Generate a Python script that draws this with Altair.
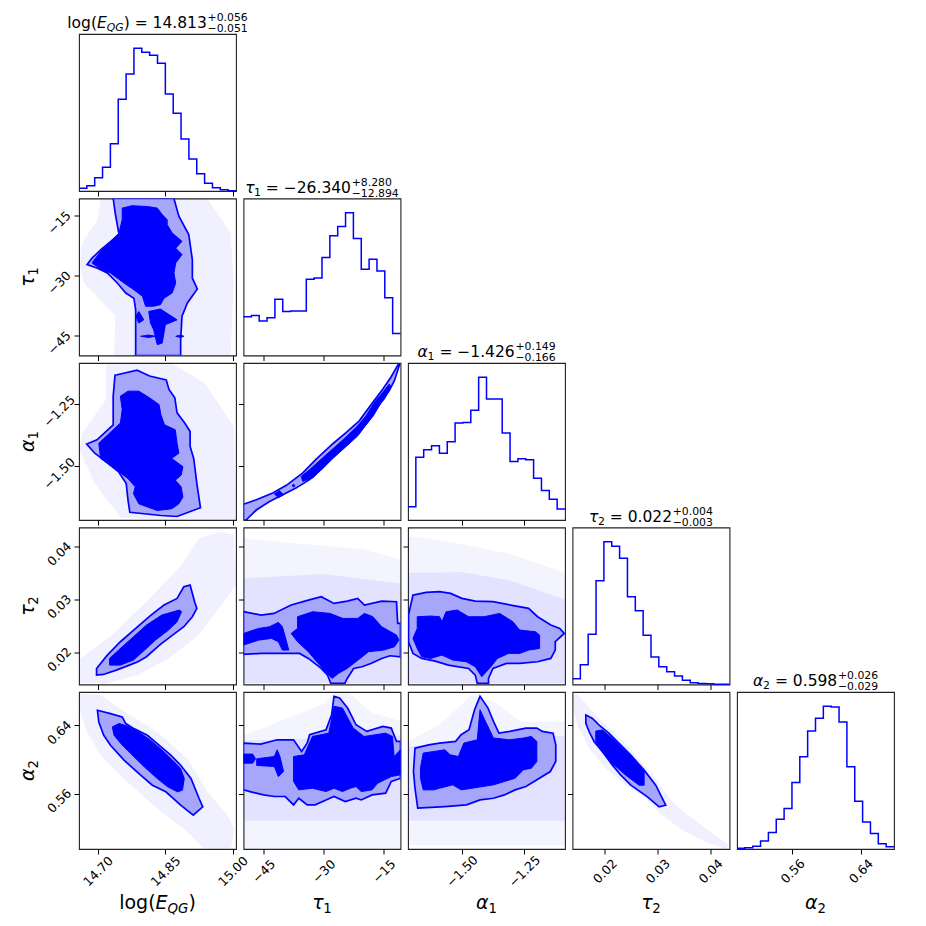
import altair as alt
import numpy as np
import pandas as pd

# ---------------- data ----------------
PARAMS = ["logE", "tau1", "alpha1", "tau2", "alpha2"]
RANGES = {
    "logE": [14.658, 15.007],
    "tau1": [-50.0, -10.8],
    "alpha1": [-1.716, -1.086],
    "tau2": [0.0139, 0.0436],
    "alpha2": [0.495, 0.679],
}
TICKS = {
    "logE": [14.70, 14.85, 15.00],
    "tau1": [-45, -30, -15],
    "alpha1": [-1.50, -1.25],
    "tau2": [0.02, 0.03, 0.04],
    "alpha2": [0.56, 0.64],
}
FMT = {"logE": ".2f", "tau1": "d", "alpha1": ".2f", "tau2": ".2f", "alpha2": ".2f"}

HIST_LOGE = [8, 16, 40, 71, 142, 275, 351, 428, 416, 407, 383, 291, 233, 156, 96, 52, 23, 10, 4, 1]
HIST_TAU1 = [116, 120, 103, 113, 168, 132, 133, 133, 228, 232, 293, 358, 386, 427, 350, 258, 288, 253, 173, 66]
HIST_ALPHA1 = [40, 188, 210, 222, 200, 234, 290, 292, 328, 427, 362, 362, 260, 175, 183, 180, 125, 88, 62, 33]
HIST_TAU2 = [17, 59, 150, 310, 426, 413, 377, 262, 220, 147, 82, 53, 38, 25, 13, 5, 3, 2, 1, 0.5]
HIST_ALPHA2 = [2, 4, 8, 24, 49, 89, 121, 199, 276, 353, 391, 427, 425, 380, 246, 143, 81, 46, 16, 7]
HISTS = {"logE": HIST_LOGE, "tau1": HIST_TAU1, "alpha1": HIST_ALPHA1, "tau2": HIST_TAU2, "alpha2": HIST_ALPHA2}

TITLE_VALUES = {
    "logE": ("14.813", "+0.056", "\u22120.051"),
    "tau1": ("\u221226.340", "+8.280", "\u221212.894"),
    "alpha1": ("\u22121.426", "+0.149", "\u22120.166"),
    "tau2": ("0.022", "+0.004", "\u22120.003"),
    "alpha2": ("0.598", "+0.026", "\u22120.029"),
}
LABELS = {
    "logE": [("rm", "log("), ("it", "E"), ("sub", "QG", True), ("rm", ")")],
    "tau1": [("it", "\u03c4"), ("sub", "1", False)],
    "alpha1": [("it", "\u03b1"), ("sub", "1", False)],
    "tau2": [("it", "\u03c4"), ("sub", "2", False)],
    "alpha2": [("it", "\u03b1"), ("sub", "2", False)],
}

# contour / point-cloud outlines (x, y) in data units
A_CLOUD = [(14.706, -10.8), (14.943, -10.8), (14.995, -19.4), (15.002, -31.9), (14.995, -50.0), (14.736, -50.0),
           (14.739, -40.2), (14.669, -31.9), (14.660, -27.7), (14.665, -21.9), (14.699, -16.1)]
A_2SIG = [(14.734, -10.8), (14.739, -14.8), (14.747, -19.8), (14.706, -23.6), (14.687, -25.7), (14.676, -27.3),
          (14.699, -28.2), (14.721, -29.4), (14.743, -31.9), (14.762, -34.4), (14.780, -35.7), (14.784, -38.6),
          (14.784, -50.0), (14.884, -50.0), (14.884, -46.1), (14.887, -40.2), (14.899, -36.9), (14.921, -33.4),
          (14.910, -30.7), (14.910, -26.1), (14.902, -19.8), (14.880, -15.2), (14.869, -10.8)]
A_1SIG = [(14.754, -13.2), (14.776, -12.6), (14.810, -12.8), (14.832, -13.2), (14.843, -14.8), (14.854, -16.1),
          (14.854, -17.3), (14.865, -19.4), (14.887, -21.5), (14.873, -23.2), (14.887, -24.8), (14.873, -26.9),
          (14.869, -29.4), (14.873, -31.9), (14.865, -34.4), (14.847, -35.7), (14.839, -37.3), (14.824, -37.7),
          (14.806, -37.7), (14.799, -35.2), (14.780, -33.6), (14.758, -31.9), (14.728, -29.4), (14.706, -28.4),
          (14.687, -26.9), (14.706, -24.0), (14.728, -21.5), (14.747, -19.4), (14.754, -16.1)]
A_1SIG_B = [(14.784, -40.2), (14.791, -39.0), (14.802, -41.1), (14.791, -41.9)]
A_1SIG_C = [(14.813, -39.0), (14.839, -38.4), (14.876, -41.1), (14.850, -42.3), (14.843, -46.9), (14.832, -47.3),
            (14.824, -43.6), (14.817, -41.9)]
A_1SIG_D = [(14.795, -45.2), (14.813, -44.9), (14.828, -45.2), (14.813, -45.5)]
A_1SIG_E = [(14.873, -45.2), (14.884, -44.9), (14.891, -45.2), (14.884, -45.5)]

B_CLOUD = [(14.718, -1.091), (14.864, -1.087), (14.937, -1.165), (15.002, -1.340), (15.007, -1.716), (14.824, -1.716),
           (14.750, -1.705), (14.693, -1.570), (14.659, -1.435), (14.665, -1.367), (14.718, -1.232)]
B_2SIG = [(14.738, -1.135), (14.787, -1.115), (14.815, -1.138), (14.852, -1.154), (14.858, -1.192), (14.871, -1.226),
          (14.876, -1.286), (14.893, -1.327), (14.905, -1.361), (14.905, -1.421), (14.913, -1.469), (14.920, -1.570),
          (14.928, -1.667), (14.876, -1.702), (14.840, -1.698), (14.771, -1.685), (14.767, -1.637), (14.763, -1.570),
          (14.746, -1.523), (14.718, -1.482), (14.693, -1.448), (14.675, -1.411), (14.698, -1.394), (14.734, -1.334),
          (14.734, -1.219)]
B_1SIG = [(14.750, -1.219), (14.767, -1.199), (14.791, -1.199), (14.815, -1.226), (14.836, -1.253), (14.840, -1.293),
          (14.848, -1.334), (14.872, -1.354), (14.876, -1.408), (14.880, -1.448), (14.864, -1.469), (14.889, -1.502),
          (14.885, -1.536), (14.872, -1.556), (14.885, -1.583), (14.889, -1.624), (14.880, -1.651), (14.864, -1.671),
          (14.832, -1.678), (14.791, -1.651), (14.779, -1.610), (14.783, -1.583), (14.767, -1.550), (14.742, -1.516),
          (14.706, -1.469), (14.702, -1.408), (14.718, -1.381), (14.750, -1.327), (14.754, -1.273)]

C_2SIG = [(-50.0, -1.653), (-46.8, -1.635), (-42.7, -1.608), (-39.3, -1.577), (-35.2, -1.527), (-31.9, -1.473),
          (-27.7, -1.410), (-24.4, -1.365), (-21.1, -1.318), (-17.7, -1.244), (-15.2, -1.190), (-13.2, -1.143),
          (-11.5, -1.095), (-10.9, -1.086), (-12.3, -1.156), (-13.6, -1.197), (-15.7, -1.244), (-17.7, -1.298),
          (-20.2, -1.345), (-23.6, -1.399), (-26.9, -1.453), (-30.2, -1.507), (-33.5, -1.554), (-36.9, -1.588),
          (-40.2, -1.615), (-43.5, -1.642), (-46.8, -1.676), (-48.9, -1.709), (-49.3, -1.716), (-50.0, -1.716)]
C_1SIG = [(-35.6, -1.541), (-33.5, -1.514), (-30.2, -1.466), (-26.9, -1.419), (-24.4, -1.383), (-21.5, -1.338),
          (-19.4, -1.298), (-17.3, -1.244), (-15.2, -1.203), (-13.6, -1.170), (-13.2, -1.183), (-14.8, -1.230),
          (-16.5, -1.264), (-18.6, -1.318), (-21.5, -1.379), (-25.2, -1.433), (-28.5, -1.480), (-31.0, -1.520),
          (-32.7, -1.547), (-35.2, -1.561)]
C_1SIG_B = [(-42.3, -1.612), (-41.0, -1.599), (-40.0, -1.615), (-41.2, -1.626)]
C_1SIG_C = [(-37.9, -1.578), (-37.5, -1.573), (-37.1, -1.578), (-37.5, -1.583)]

D_CLOUD = [(14.658, 0.01852), (14.731, 0.02325), (14.808, 0.02956), (14.886, 0.03650), (14.925, 0.04155),
           (14.973, 0.04281), (15.002, 0.04218), (15.007, 0.03271), (14.963, 0.02767), (14.925, 0.02325),
           (14.857, 0.01883), (14.789, 0.01568), (14.721, 0.0141), (14.658, 0.0141)]
D_2SIG = [(14.697, 0.01568), (14.697, 0.01694), (14.721, 0.01946), (14.750, 0.02199), (14.784, 0.02451),
          (14.818, 0.02703), (14.847, 0.02893), (14.876, 0.03019), (14.891, 0.03240), (14.905, 0.03271),
          (14.915, 0.02956), (14.920, 0.02830), (14.910, 0.02672), (14.891, 0.02483), (14.866, 0.02325),
          (14.837, 0.02136), (14.808, 0.01915), (14.789, 0.01820), (14.770, 0.01757), (14.741, 0.01662),
          (14.712, 0.01580)]
D_1SIG = [(14.726, 0.01757), (14.726, 0.01883), (14.750, 0.02072), (14.779, 0.02293), (14.808, 0.02514),
          (14.842, 0.02703), (14.881, 0.02798), (14.886, 0.02767), (14.876, 0.02577), (14.857, 0.02419),
          (14.828, 0.02230), (14.804, 0.02041), (14.779, 0.01852), (14.750, 0.01757)]

E_CLOUD = [(-50.0, 0.0415), (-35.0, 0.0405), (-20.0, 0.0395), (-10.8, 0.0375), (-10.8, 0.0141), (-50.0, 0.0141)]
E_CLOUD_IN = [(-50.0, 0.0340), (-30.0, 0.0348), (-10.8, 0.0330), (-10.8, 0.0141), (-50.0, 0.0141)]
E_2SIG = [(-50.0, 0.02767), (-45.6, 0.02703), (-42.4, 0.02735), (-38.1, 0.02893), (-33.8, 0.02987), (-30.6, 0.03050),
          (-27.4, 0.02924), (-24.1, 0.02968), (-21.5, 0.03019), (-19.8, 0.02893), (-15.5, 0.02968), (-11.8, 0.02956),
          (-11.5, 0.02546), (-10.8, 0.02546), (-10.8, 0.01915), (-13.4, 0.01934), (-15.5, 0.01883), (-18.2, 0.01788),
          (-20.4, 0.01725), (-22.5, 0.01694), (-24.1, 0.01505), (-24.7, 0.0141), (-28.2, 0.0141), (-29.0, 0.01568),
          (-30.6, 0.01694), (-33.8, 0.01883), (-36.0, 0.01978), (-39.2, 0.01978), (-45.6, 0.01978), (-50.0, 0.01959)]
E_1SIG = [(-36.5, 0.02672), (-32.7, 0.02767), (-28.4, 0.02735), (-25.2, 0.02640), (-21.5, 0.02640), (-19.8, 0.02735),
          (-17.7, 0.02672), (-15.5, 0.02483), (-11.8, 0.02325), (-11.2, 0.02230), (-12.3, 0.02104), (-15.0, 0.02041),
          (-18.8, 0.02009), (-20.9, 0.01883), (-24.1, 0.01694), (-26.3, 0.01599), (-27.9, 0.01505), (-29.5, 0.01631),
          (-31.7, 0.01820), (-33.8, 0.02009), (-36.5, 0.02199), (-38.1, 0.02356), (-36.5, 0.02451)]
E_1SIG_B = [(-50.0, 0.02356), (-46.2, 0.02451), (-43.5, 0.02483), (-41.3, 0.02565), (-40.3, 0.02483), (-39.7, 0.02325),
            (-38.7, 0.02041), (-40.3, 0.02041), (-41.3, 0.02199), (-43.0, 0.02262), (-46.2, 0.02230), (-50.0, 0.02136)]

F_CLOUD = [(-1.716, 0.0420), (-1.50, 0.0405), (-1.30, 0.0385), (-1.086, 0.0350), (-1.086, 0.0141), (-1.716, 0.0141)]
F_CLOUD_IN = [(-1.716, 0.0350), (-1.50, 0.0352), (-1.30, 0.0335), (-1.086, 0.0300), (-1.086, 0.0141), (-1.716, 0.0141)]
F_2SIG = [(-1.696, 0.03082), (-1.643, 0.03133), (-1.589, 0.03145), (-1.545, 0.03114), (-1.500, 0.03019),
          (-1.446, 0.02968), (-1.375, 0.02956), (-1.304, 0.02893), (-1.232, 0.02830), (-1.196, 0.02672),
          (-1.143, 0.02514), (-1.107, 0.02451), (-1.089, 0.02356), (-1.125, 0.02199), (-1.125, 0.02041),
          (-1.143, 0.01883), (-1.196, 0.01820), (-1.268, 0.01788), (-1.321, 0.01788), (-1.375, 0.01694),
          (-1.393, 0.01505), (-1.393, 0.0141), (-1.438, 0.0141), (-1.446, 0.01568), (-1.473, 0.01694),
          (-1.554, 0.01757), (-1.607, 0.01833), (-1.661, 0.01883), (-1.696, 0.01978), (-1.714, 0.02199),
          (-1.714, 0.02703)]
F_1SIG = [(-1.679, 0.02672), (-1.625, 0.02685), (-1.589, 0.02672), (-1.580, 0.02577), (-1.563, 0.02767),
          (-1.518, 0.02798), (-1.473, 0.02672), (-1.411, 0.02672), (-1.348, 0.02735), (-1.295, 0.02577),
          (-1.268, 0.02419), (-1.205, 0.02388), (-1.188, 0.02325), (-1.188, 0.02072), (-1.232, 0.02041),
          (-1.268, 0.01978), (-1.313, 0.01978), (-1.357, 0.01883), (-1.384, 0.01725), (-1.420, 0.01536),
          (-1.446, 0.01725), (-1.482, 0.01820), (-1.536, 0.01852), (-1.580, 0.01946), (-1.625, 0.01883),
          (-1.661, 0.01915), (-1.679, 0.02072), (-1.696, 0.02262), (-1.679, 0.02451)]

G_CLOUD = [(14.661, 0.6771), (14.706, 0.6751), (14.765, 0.6537), (14.832, 0.6322), (14.899, 0.6010), (14.944, 0.5620),
           (14.988, 0.5347), (15.003, 0.5191), (14.996, 0.4957), (14.936, 0.4957), (14.899, 0.5152), (14.832, 0.5425),
           (14.765, 0.5737), (14.706, 0.6049), (14.676, 0.6322), (14.658, 0.6595)]
G_2SIG = [(14.699, 0.6576), (14.728, 0.6537), (14.754, 0.6498), (14.762, 0.6420), (14.780, 0.6361), (14.810, 0.6283),
          (14.832, 0.6186), (14.862, 0.6049), (14.884, 0.5932), (14.907, 0.5776), (14.925, 0.5542), (14.933, 0.5445),
          (14.912, 0.5347), (14.884, 0.5464), (14.851, 0.5620), (14.821, 0.5698), (14.795, 0.5815), (14.758, 0.5991),
          (14.728, 0.6166), (14.713, 0.6283), (14.702, 0.6439)]
G_1SIG = [(14.732, 0.6381), (14.747, 0.6420), (14.765, 0.6392), (14.791, 0.6322), (14.817, 0.6225), (14.843, 0.6108),
          (14.866, 0.5991), (14.884, 0.5893), (14.892, 0.5776), (14.888, 0.5640), (14.877, 0.5620), (14.855, 0.5679),
          (14.832, 0.5776), (14.803, 0.5913), (14.773, 0.6069), (14.751, 0.6186), (14.736, 0.6283)]

H_CLOUD = [(-50.0, 0.628), (-30.0, 0.665), (-27.0, 0.679), (-24.0, 0.679), (-18.0, 0.655), (-10.8, 0.645),
           (-10.8, 0.495), (-50.0, 0.495)]
H_CLOUD_IN = [(-50.0, 0.622), (-10.8, 0.628), (-10.8, 0.528), (-50.0, 0.528)]
H_2SIG = [(-50.0, 0.6191), (-45.7, 0.6179), (-41.6, 0.6230), (-37.5, 0.6230), (-35.5, 0.6093), (-34.1, 0.6191),
          (-33.5, 0.6289), (-29.4, 0.6348), (-28.0, 0.6524), (-27.4, 0.6739), (-26.0, 0.6720), (-24.0, 0.6602),
          (-21.9, 0.6406), (-19.2, 0.6328), (-15.2, 0.6387), (-13.1, 0.6367), (-11.8, 0.6211), (-10.8, 0.6211),
          (-10.8, 0.5780), (-13.1, 0.5741), (-14.5, 0.5604), (-17.9, 0.5584), (-20.6, 0.5525), (-21.9, 0.5545),
          (-24.6, 0.5506), (-27.4, 0.5565), (-29.4, 0.5525), (-32.1, 0.5467), (-34.1, 0.5467), (-36.2, 0.5545),
          (-37.5, 0.5467), (-39.6, 0.5565), (-42.3, 0.5565), (-45.0, 0.5584), (-48.4, 0.5623), (-50.0, 0.5643)]
H_1SIG = [(-37.5, 0.6034), (-34.8, 0.6054), (-32.8, 0.6269), (-28.7, 0.6308), (-27.4, 0.6622), (-25.3, 0.6602),
          (-22.6, 0.6367), (-19.9, 0.6269), (-14.5, 0.6308), (-12.8, 0.6269), (-12.4, 0.6034), (-10.8, 0.6113),
          (-10.8, 0.5819), (-13.1, 0.5799), (-16.5, 0.5721), (-17.9, 0.5643), (-20.6, 0.5623), (-21.9, 0.5682),
          (-23.3, 0.5662), (-25.3, 0.5623), (-27.4, 0.5662), (-29.4, 0.5623), (-32.8, 0.5662), (-36.2, 0.5643),
          (-37.5, 0.5741)]
H_1SIG_B = [(-50.0, 0.6062), (-47.7, 0.6062), (-47.0, 0.6007), (-47.7, 0.5956), (-50.0, 0.5956)]
H_1SIG_C = [(-46.7, 0.6007), (-42.3, 0.6034), (-41.6, 0.6113), (-40.9, 0.6034), (-40.0, 0.5858), (-41.3, 0.5799),
            (-42.3, 0.5917), (-46.7, 0.5929)]

I_CLOUD = [(-1.716, 0.6211), (-1.590, 0.6406), (-1.460, 0.6759), (-1.373, 0.6680), (-1.264, 0.6445), (-1.086, 0.6445),
           (-1.086, 0.4997), (-1.716, 0.4997)]
I_CLOUD_IN = [(-1.716, 0.615), (-1.086, 0.628), (-1.086, 0.528), (-1.716, 0.528)]
I_2SIG = [(-1.688, 0.6132), (-1.633, 0.6171), (-1.590, 0.6191), (-1.525, 0.6211), (-1.503, 0.6289), (-1.471, 0.6348),
          (-1.449, 0.6583), (-1.427, 0.6739), (-1.395, 0.6602), (-1.373, 0.6445), (-1.351, 0.6308), (-1.308, 0.6328),
          (-1.243, 0.6367), (-1.199, 0.6367), (-1.177, 0.6328), (-1.134, 0.6308), (-1.123, 0.6171), (-1.123, 0.5976),
          (-1.145, 0.5858), (-1.210, 0.5741), (-1.243, 0.5682), (-1.286, 0.5643), (-1.329, 0.5584), (-1.373, 0.5545),
          (-1.427, 0.5525), (-1.481, 0.5467), (-1.568, 0.5447), (-1.677, 0.5428), (-1.688, 0.5662), (-1.694, 0.5858)]
I_1SIG = [(-1.655, 0.6074), (-1.612, 0.6093), (-1.568, 0.6113), (-1.547, 0.6054), (-1.514, 0.6034), (-1.492, 0.6191),
          (-1.438, 0.6230), (-1.427, 0.6583), (-1.405, 0.6445), (-1.373, 0.6250), (-1.308, 0.6230), (-1.253, 0.6250),
          (-1.221, 0.6269), (-1.199, 0.6211), (-1.199, 0.5976), (-1.221, 0.5897), (-1.253, 0.5878), (-1.286, 0.5780),
          (-1.329, 0.5741), (-1.373, 0.5702), (-1.460, 0.5662), (-1.503, 0.5643), (-1.536, 0.5702), (-1.590, 0.5662),
          (-1.612, 0.5643), (-1.655, 0.5643), (-1.666, 0.5780), (-1.666, 0.5897)]

J_CLOUD = [(0.0139, 0.6774), (0.01485, 0.6763), (0.01831, 0.6520), (0.02335, 0.6226), (0.02965, 0.5776),
           (0.03280, 0.5502), (0.03658, 0.5306), (0.04099, 0.5110), (0.04351, 0.4993), (0.04288, 0.4950),
           (0.03910, 0.5032), (0.03469, 0.5169), (0.03091, 0.5345), (0.02776, 0.5541), (0.02398, 0.5698),
           (0.02020, 0.5893), (0.01705, 0.6128), (0.01485, 0.6402), (0.0139, 0.6598)]
J_2SIG = [(0.01642, 0.6520), (0.01768, 0.6481), (0.01894, 0.6402), (0.02083, 0.6305), (0.02272, 0.6187),
          (0.02493, 0.6050), (0.02745, 0.5874), (0.02965, 0.5698), (0.03154, 0.5463), (0.03028, 0.5443),
          (0.02808, 0.5561), (0.02493, 0.5698), (0.02304, 0.5815), (0.02146, 0.5933), (0.01957, 0.6089),
          (0.01800, 0.6207), (0.01705, 0.6324), (0.01642, 0.6422)]
J_1SIG = [(0.01831, 0.6332), (0.01957, 0.6344), (0.02146, 0.6246), (0.02367, 0.6109), (0.02556, 0.5991),
          (0.02745, 0.5854), (0.02745, 0.5698), (0.02650, 0.5698), (0.02398, 0.5815), (0.02146, 0.5952),
          (0.01957, 0.6089), (0.01831, 0.6207)]

PANELS = {
    (1, 0): dict(cloud=[A_CLOUD], cloud_in=[], s2=[A_2SIG], s1=[A_1SIG, A_1SIG_B, A_1SIG_C, A_1SIG_D, A_1SIG_E]),
    (2, 0): dict(cloud=[B_CLOUD], cloud_in=[], s2=[B_2SIG], s1=[B_1SIG]),
    (2, 1): dict(cloud=[], cloud_in=[], s2=[C_2SIG], s1=[C_1SIG, C_1SIG_B, C_1SIG_C]),
    (3, 0): dict(cloud=[D_CLOUD], cloud_in=[], s2=[D_2SIG], s1=[D_1SIG]),
    (3, 1): dict(cloud=[E_CLOUD], cloud_in=[E_CLOUD_IN], s2=[E_2SIG], s1=[E_1SIG, E_1SIG_B]),
    (3, 2): dict(cloud=[F_CLOUD], cloud_in=[F_CLOUD_IN], s2=[F_2SIG], s1=[F_1SIG]),
    (4, 0): dict(cloud=[G_CLOUD], cloud_in=[], s2=[G_2SIG], s1=[G_1SIG]),
    (4, 1): dict(cloud=[H_CLOUD], cloud_in=[H_CLOUD_IN], s2=[H_2SIG], s1=[H_1SIG, H_1SIG_B, H_1SIG_C]),
    (4, 2): dict(cloud=[I_CLOUD], cloud_in=[I_CLOUD_IN], s2=[I_2SIG], s1=[I_1SIG]),
    (4, 3): dict(cloud=[J_CLOUD], cloud_in=[], s2=[J_2SIG], s1=[J_1SIG]),
}

# ---------------- style / layout ----------------
W = 157
H = 157
SP = 7.5
BLUE = "#0000ff"
LIGHT = "#a6a6fa"
FONT = "DejaVu Sans"
TITLE_SIZE = 15.5
AXTITLE_SIZE = 19
TICK_SIZE = 12.5

GW = {c: 0.636 for c in "0123456789"}
GW.update({".": 0.318, " ": 0.318, "=": 0.838, "+": 0.838, "\u2212": 0.838, "(": 0.390, ")": 0.390,
           "l": 0.278, "o": 0.612, "g": 0.635, "E": 0.632, "Q": 0.787, "G": 0.775,
           "\u03c4": 0.568, "\u03b1": 0.659})


def tw(s, size):
    return sum(GW.get(c, 0.6) for c in s) * size


def runs(items, size):
    out, acc = [], 0.0
    for it in items:
        kind = it[0]
        if kind == "sp":
            acc += it[1] * GW[" "] * size
        elif kind in ("rm", "it"):
            out.append((it[1], size, kind == "it", acc, 0.0))
            acc += tw(it[1], size)
        elif kind == "sub":
            s2 = size * 0.7
            out.append((it[1], s2, it[2], acc, 0.22 * size))
            acc += tw(it[1], s2)
        elif kind == "supsub":
            s2 = size * 0.7
            off = acc + 0.05 * size
            out.append((it[1], s2, False, off, -0.45 * size))
            out.append((it[2], s2, False, off, 0.28 * size))
            acc = off + max(tw(it[1], s2), tw(it[2], s2))
    return out, acc


def text_layers(items, size, center, base, vertical=False):
    rs, total = runs(items, size)
    charts = []
    for (t, s, ital, off, shift) in rs:
        mk = dict(text=t, font=FONT, fontSize=s, align="left", baseline="alphabetic", color="black")
        if ital:
            mk["fontStyle"] = "italic"
        if vertical:
            mk["angle"] = 270
            x = base + shift
            y = center + total / 2 - off
        else:
            x = center - total / 2 + off
            y = base + shift
        charts.append(alt.Chart(alt.Data(values=[{"a": 0}])).mark_text(**mk)
                      .encode(x=alt.value(x), y=alt.value(y)))
    return charts


def xaxis(p, labels):
    return alt.Axis(values=TICKS[p], format=FMT[p], labels=labels, labelAngle=315, labelAlign="center",
                    labelBaseline="middle", labelPadding=17, labelFontSize=TICK_SIZE, labelFont=FONT,
                    labelColor="black", labelFlush=False, labelOverlap=False, ticks=True, tickSize=5,
                    tickColor="black", tickWidth=1, domain=False, grid=False, title=None)


def yaxis(p, labels):
    return alt.Axis(values=TICKS[p], format=FMT[p], labels=labels, labelAngle=315, labelAlign="center",
                    labelBaseline="middle", labelPadding=15, labelOffset=7, labelFontSize=TICK_SIZE,
                    labelFont=FONT, labelColor="black", labelFlush=False, labelOverlap=False, ticks=True,
                    tickSize=5, tickColor="black", tickWidth=1, domain=False, grid=False, title=None)


def poly_frame(polys):
    rows = []
    for k, poly in enumerate(polys):
        for i, (x, y) in enumerate(poly):
            rows.append({"x": x, "y": y, "pid": k, "i": i})
    return pd.DataFrame(rows)


def panel_2d(i, j):
    xp, yp = PARAMS[j], PARAMS[i]
    xenc = alt.X("x:Q", scale=alt.Scale(domain=RANGES[xp], nice=False, zero=False), axis=xaxis(xp, i == 4))
    yenc = alt.Y("y:Q", scale=alt.Scale(domain=RANGES[yp], nice=False, zero=False), axis=yaxis(yp, j == 0))
    spec = PANELS[(i, j)]
    layered = bool(spec["cloud_in"])
    styles = {
        "cloud": dict(fill=BLUE, fillOpacity=0.045 if layered else 0.06, strokeOpacity=0),
        "cloud_in": dict(fill=BLUE, fillOpacity=0.065, strokeOpacity=0),
        "s2": dict(fill=LIGHT, fillOpacity=1, stroke=BLUE, color=BLUE, strokeWidth=1.7),
        "s1": dict(fill=BLUE, fillOpacity=1, stroke=BLUE, color=BLUE, strokeWidth=1.0),
    }
    layers = []
    for kind in ["cloud", "cloud_in", "s2", "s1"]:
        if not spec[kind]:
            continue
        df = poly_frame(spec[kind])
        layers.append(alt.Chart(df).mark_line(interpolate="linear-closed", clip=True, **styles[kind])
                      .encode(x=xenc, y=yenc, order="i:Q", detail="pid:N"))
    if j == 0:
        layers += text_layers(LABELS[yp], AXTITLE_SIZE, H / 2, -45, vertical=True)
    if i == 4:
        layers += text_layers(LABELS[xp], AXTITLE_SIZE, W / 2, H + 60)
    return alt.layer(*layers).properties(width=W, height=H)


def panel_hist(k):
    p = PARAMS[k]
    counts = HISTS[p]
    edges = np.linspace(RANGES[p][0], RANGES[p][1], len(counts) + 1)
    xs = list(edges[:-1]) + [edges[-1]]
    ys = list(counts) + [counts[-1]]
    df = pd.DataFrame({"x": xs, "y": ys})
    line = alt.Chart(df).mark_line(interpolate="step-after", color=BLUE, strokeWidth=1.5).encode(
        x=alt.X("x:Q", scale=alt.Scale(domain=RANGES[p], nice=False, zero=False), axis=xaxis(p, k == 4)),
        y=alt.Y("y:Q", scale=alt.Scale(domain=[0, 1.1 * max(counts)], nice=False, zero=True), axis=None),
    )
    val, sup, sub = TITLE_VALUES[p]
    items = LABELS[p] + [("sp", 1), ("rm", "="), ("sp", 1), ("rm", val), ("supsub", sup, sub)]
    layers = [line] + text_layers(items, TITLE_SIZE, W / 2, -6)
    if k == 4:
        layers += text_layers(LABELS[p], AXTITLE_SIZE, W / 2, H + 60)
    return alt.layer(*layers).properties(width=W, height=H)


def blank():
    return alt.Chart(alt.Data(values=[{"x": 0}])).mark_point(opacity=0).encode(
        x=alt.X("x:Q", axis=None), y=alt.Y("x:Q", axis=None)
    ).properties(width=W, height=H, view=alt.ViewBackground(stroke="transparent"))


cells = []
for i in range(5):
    for j in range(5):
        if i == j:
            cells.append(panel_hist(i))
        elif i > j:
            cells.append(panel_2d(i, j))
        else:
            cells.append(blank())

chart = alt.concat(*cells, columns=5, spacing=SP, bounds="flush").configure_view(
    stroke="#222222", strokeWidth=1.1
).properties(padding={"left": 10, "top": 3, "right": 5, "bottom": 5}, background="white")

chart.save("out.html", embed_options={"renderer": "svg", "actions": False})
